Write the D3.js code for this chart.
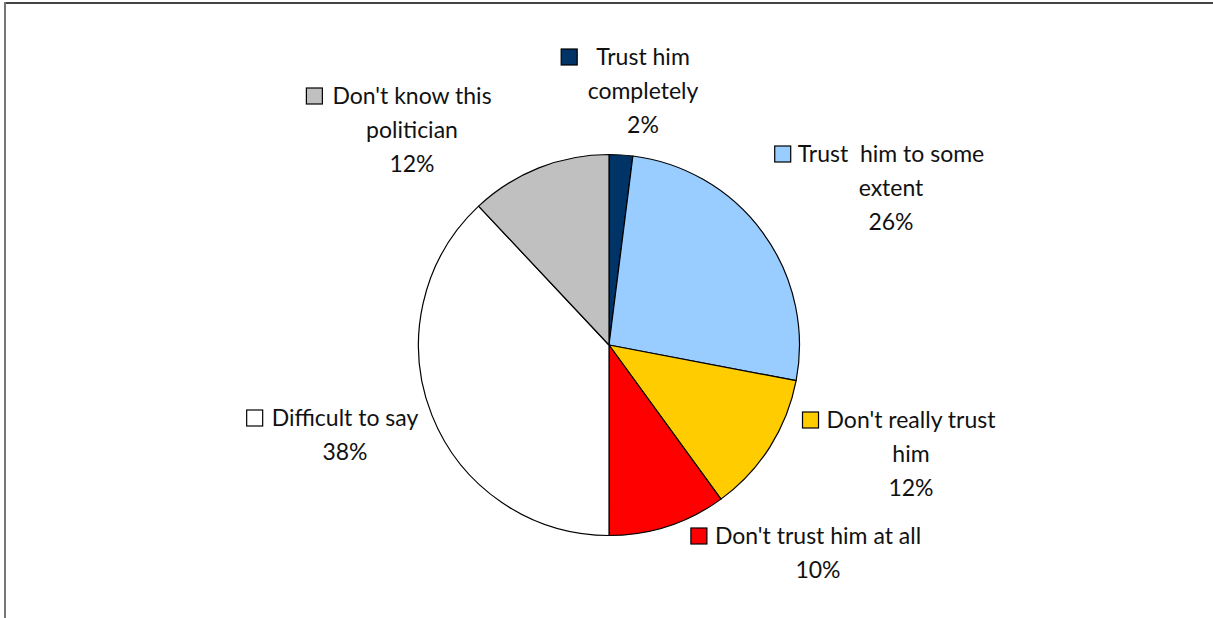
<!DOCTYPE html>
<html>
<head>
<meta charset="utf-8">
<script src="https://cdn.jsdelivr.net/npm/d3@7"></script>
<style>
  html, body { margin: 0; padding: 0; background: #fff; }
  svg { display: block; }
  text { font-family: Lato, "Noto Sans", sans-serif; fill: #111; white-space: pre; }
</style>
</head>
<body>
<svg id="chart" width="1213" height="618"></svg>
<script>
// Survey answers, in clockwise order from 12 o'clock
const categories = [
  "Trust him completely",
  "Trust  him to some extent",
  "Don't really trust him",
  "Don't trust him at all",
  "Difficult to say",
  "Don't know this politician"
];
const values = [2, 26, 12, 10, 38, 12];
const colors = ["#003366", "#99CCFF", "#FFCC00", "#FF0000", "#FFFFFF", "#C0C0C0"];

// How each label is broken into lines
const labelLines = [
  ["Trust him", "completely"],
  ["Trust  him to some", "extent"],
  ["Don't really trust", "him"],
  ["Don't trust him at all"],
  ["Difficult to say"],
  ["Don't know this", "politician"]
];

// Label block placement: centre x, first baseline y, gap between key and text
const labelLayout = [
  { x: 643, y: 65, gap: 19 },
  { x: 891, y: 162, gap: 7 },
  { x: 911, y: 428, gap: 8 },
  { x: 818, y: 544, gap: 8 },
  { x: 345, y: 426, gap: 9 },
  { x: 412, y: 104, gap: 10 }
];

const W = 1213, H = 618;
const cx = 609, cy = 345, R = 190.5;
const fontSize = 23, lineH = 34, keySize = 16;

const svg = d3.select("#chart");

// frame: top and left edges
svg.append("line").attr("x1", 4.5).attr("y1", 3).attr("x2", W).attr("y2", 3)
  .attr("stroke", "#444").attr("stroke-width", 2);
svg.append("line").attr("x1", 5).attr("y1", 2).attr("x2", 5).attr("y2", H)
  .attr("stroke", "#777").attr("stroke-width", 2);

const pie = d3.pie().sort(null).value(d => d)
  .startAngle(0).endAngle(2 * Math.PI);
const arcs = pie(values);
const arc = d3.arc().innerRadius(0).outerRadius(R);

const g = svg.append("g").attr("transform", `translate(${cx},${cy})`);
g.selectAll("path.slice")
  .data(arcs)
  .join("path")
  .attr("class", "slice")
  .attr("d", arc)
  .attr("fill", (d, i) => colors[i])
  .attr("stroke", "#000")
  .attr("stroke-width", 1.2)
  .attr("stroke-linejoin", "round");

// Data labels: category text, percentage, and a legend key before the first line
const pct = d3.format(".0%");
arcs.forEach((a, i) => {
  const L = labelLayout[i];
  const lines = labelLines[i].concat([pct(values[i] / 100)]);
  const t = svg.append("text")
    .attr("text-anchor", "middle")
    .attr("font-size", fontSize);
  lines.forEach((ln, k) => {
    t.append("tspan")
      .attr("x", L.x)
      .attr("y", L.y + k * lineH)
      .text(ln);
  });
  const first = t.select("tspan").node();
  const w = first.getComputedTextLength();
  const left = L.x - w / 2;
  svg.append("rect")
    .attr("x", left - L.gap - keySize)
    .attr("y", L.y - keySize)
    .attr("width", keySize)
    .attr("height", keySize)
    .attr("fill", colors[i])
    .attr("stroke", "#000")
    .attr("stroke-width", 1.2);
});
</script>
</body>
</html>
